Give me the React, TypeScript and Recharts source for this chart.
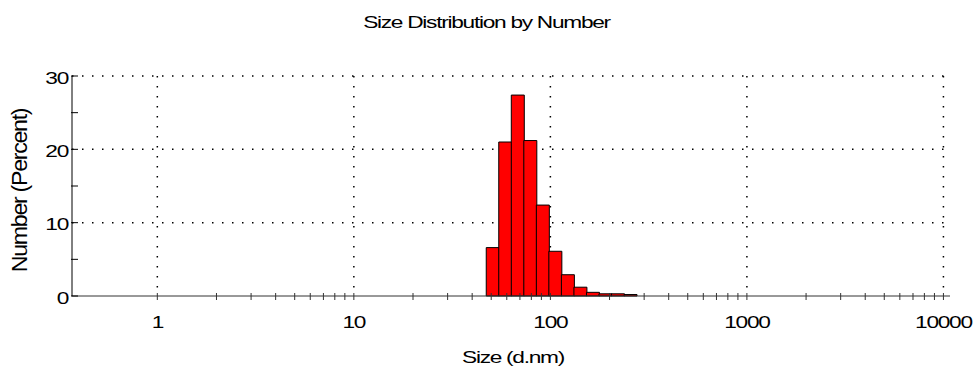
import React from 'react';
import { ComposedChart, Bar, XAxis, YAxis, CartesianGrid, Label } from 'recharts';

// Size classes (d.nm) and the number distribution (%) in each class
const sizeClasses = [50.75, 58.77, 68.06, 78.82, 91.28, 105.7, 122.4, 141.8, 164.2, 190.1, 220.2, 255.0];
const numberPercent = [6.6, 21.0, 27.4, 21.2, 12.4, 6.1, 2.9, 1.2, 0.5, 0.3, 0.3, 0.2];

// Axis ticks
const xMajorTicks = [1, 10, 100, 1000, 10000];
const xMinorSteps = [2, 3, 4, 5, 6, 7, 8, 9];
const yMajorTicks = [0, 10, 20, 30];
const yMinorTicks = [5, 15, 25];
const yGridValues = [10, 20, 30];

const title = 'Size Distribution by Number';
const xTitle = 'Size (d.nm)';
const yTitle = 'Number (Percent)';

const data = sizeClasses.map((size, i) => ({ size, percent: numberPercent[i] }));

const xMinorTicks = xMajorTicks.slice(0, -1).flatMap((d) => xMinorSteps.map((s) => d * s));
const xTicks = [...xMajorTicks, ...xMinorTicks].sort((a, b) => a - b);
const yTicks = [...yMajorTicks, ...yMinorTicks].sort((a, b) => a - b);

const FONT = '"Liberation Sans", Arial, sans-serif';
const STRETCH = 1.42;
const TIGHT = -0.9;

const XTick = (props: any) => {
  const { x, y, payload } = props;
  const v = payload.value;
  const major = xMajorTicks.includes(v);
  return (
    <g>
      <line x1={x} x2={x} y1={y - 3} y2={y + 4} stroke="#333" strokeWidth={1} />
      {major && (
        <text
          transform={`translate(${x},${y + 32}) scale(${STRETCH},1)`}
          textAnchor="middle"
          fontSize={16}
          fontFamily={FONT}
          letterSpacing={TIGHT}
          fill="#000"
        >
          {v}
        </text>
      )}
    </g>
  );
};

const YTick = (props: any) => {
  const { x, y, payload } = props;
  const v = payload.value;
  const major = yMajorTicks.includes(v);
  return (
    <g>
      <line x1={x - 1} x2={x + 6} y1={y} y2={y} stroke="#000" strokeWidth={1} />
      {major && (
        <text
          transform={`translate(${x - 4},${y + 7.5}) scale(${STRETCH},1)`}
          textAnchor="end"
          fontSize={16}
          fontFamily={FONT}
          letterSpacing={TIGHT}
          fill="#000"
        >
          {v}
        </text>
      )}
    </g>
  );
};

const Titles = () => (
  <g>
    <text
      transform={`translate(486.5,28) scale(${STRETCH},1)`}
      textAnchor="middle"
      fontSize={16}
      fontFamily={FONT}
      letterSpacing={TIGHT}
      fill="#000"
    >
      {title}
    </text>
    <text
      transform={`translate(513,363) scale(${STRETCH},1)`}
      textAnchor="middle"
      fontSize={16}
      fontFamily={FONT}
      letterSpacing={TIGHT}
      fill="#000"
    >
      {xTitle}
    </text>
    <text
      transform={`translate(27,190.5) rotate(-90) scale(1.45,${STRETCH})`}
      textAnchor="middle"
      fontSize={16}
      fontFamily={FONT}
      letterSpacing={TIGHT}
      fill="#000"
    >
      {yTitle}
    </text>
  </g>
);

export default function App() {
  return (
    <div style={{ position: 'absolute', left: 0, top: 0, background: '#fff' }}>
      <ComposedChart
        width={979}
        height={370}
        data={data}
        margin={{ top: 76, right: 29, bottom: 0, left: 0 }}
        barCategoryGap={0}
        barGap={0}
      >
        <CartesianGrid
          stroke="#000"
          strokeWidth={1.5}
          strokeDasharray="1.5 8.5"
          horizontalValues={yGridValues}
          verticalValues={xMajorTicks}
        />
        <XAxis
          dataKey="size"
          type="number"
          scale="log"
          domain={[0.368, 10800]}
          allowDataOverflow
          ticks={xTicks}
          interval={0}
          tickSize={0}
          tickMargin={0}
          tickLine={false}
          axisLine={{ stroke: '#333', strokeWidth: 1 }}
          tick={<XTick />}
          height={74}
        >
          <Label content={() => <Titles />} />
        </XAxis>
        <YAxis
          type="number"
          domain={[0, 30]}
          ticks={yTicks}
          interval={0}
          tickSize={0}
          tickMargin={0}
          tickLine={false}
          axisLine={{ stroke: '#000', strokeWidth: 1 }}
          tick={<YTick />}
          width={72}
        />
        <Bar
          dataKey="percent"
          fill="#ff0000"
          stroke="#000"
          strokeWidth={1}
          isAnimationActive={false}
        />
      </ComposedChart>
    </div>
  );
}
